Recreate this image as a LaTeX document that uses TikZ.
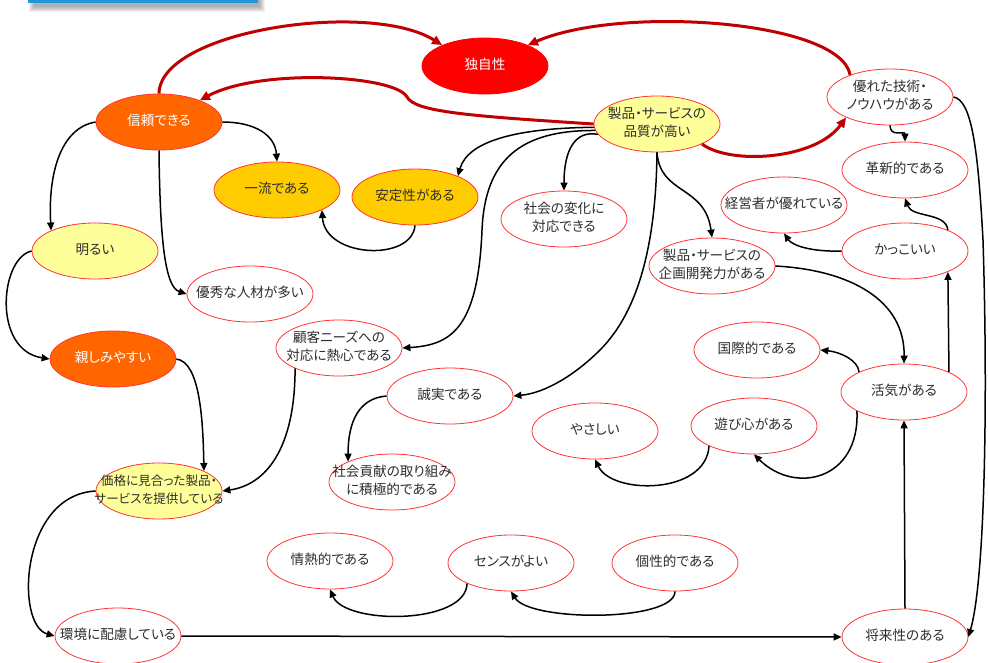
\documentclass[tikz,border=0pt]{standalone}
\usepackage{fontspec}
\setmainfont{Noto Sans CJK JP}[RawFeature=+palt]
\usetikzlibrary{shapes.geometric,arrows.meta}
\definecolor{rim}{HTML}{FF3333}
\definecolor{ink}{HTML}{2E2E2E}
\definecolor{crimson}{HTML}{C00000}
\definecolor{lemon}{HTML}{FFFF99}
\definecolor{amber}{HTML}{FFCC00}
\definecolor{tangerine}{HTML}{FF6600}
\definecolor{capblue}{HTML}{1E96DC}
% centred label of zero width, so the ellipse keeps its fixed size
\newcommand\celltext[1]{\makebox[0pt]{\begin{tabular}{@{}c@{}}#1\end{tabular}}}
\begin{document}
\begin{tikzpicture}[x=1pt,y=-1pt,
  bubble/.style={ellipse,draw=rim,line width=0.8pt,minimum width=126pt,minimum height=56pt,
    inner sep=0pt,text=ink,font=\fontsize{13.6}{18}\selectfont},
  bwhite/.style={bubble,fill=white},
  byellow/.style={bubble,fill=lemon},
  bgold/.style={bubble,fill=amber},
  borange/.style={bubble,fill=tangerine,text=white},
  bred/.style={bubble,fill=red,draw=red,text=white},
  blink/.style={line width=1.5pt,draw=black,-{Triangle[length=8pt,width=7pt]}},
  rlink/.style={line width=3pt,draw=crimson,-{Triangle[length=10pt,width=9pt]}}]
\useasboundingbox (0,0) rectangle (988,662);

% title bar peeking in at the top, with its shadow
\foreach \k in {1,...,6}
  \fill[black,opacity=0.06] (28+\k,-10) rectangle (266-\k,13-\k);
\fill[capblue] (28,-10) rectangle (258,3);

% nodes
\node[bred]    (uniq)    at (485,66)  {\celltext{独自性}};
\node[borange] (trust)   at (159,122) {\celltext{信頼できる}};
\node[byellow] (quality) at (657,124) {\celltext{製品・サービスの\\品質が高い}};
\node[bwhite]  (tech)    at (890,97)  {\celltext{優れた技術・\\ノウハウがある}};
\node[bgold]   (first)   at (277,190) {\celltext{一流である}};
\node[bgold]   (safe)    at (415,197) {\celltext{安定性がある}};
\node[bwhite]  (social)  at (564,219) {\celltext{社会の変化に\\対応できる}};
\node[bwhite]  (innov)   at (905,170) {\celltext{革新的である}};
\node[bwhite]  (exec)    at (784,205) {\celltext{経営者が優れている}};
\node[byellow] (bright)  at (95,251)  {\celltext{明るい}};
\node[bwhite]  (talent)  at (250,294) {\celltext{優秀な人材が多い}};
\node[bwhite]  (plan)    at (712,266) {\celltext{製品・サービスの\\企画開発力がある}};
\node[bwhite]  (cool)    at (905,251) {\celltext{かっこいい}};
\node[borange] (approach) at (113,359) {\celltext{親しみやすい}};
\node[bwhite]  (customer) at (339,348) {\celltext{顧客ニーズへの\\対応に熱心である}};
\node[bwhite]  (intl)    at (757,350) {\celltext{国際的である}};
\node[bwhite]  (lively)  at (904,392) {\celltext{活気がある}};
\node[bwhite]  (sincere) at (450,396) {\celltext{誠実である}};
\node[bwhite]  (gentle)  at (595,431) {\celltext{やさしい}};
\node[bwhite]  (play)    at (754,426) {\celltext{遊び心がある}};
\node[byellow,font=\fontsize{12.6}{18}\selectfont] (price) at (159,491)
  {\celltext{価格に見合った製品・\\サービスを提供している}};
\node[bwhite]  (contrib) at (392,482) {\celltext{社会貢献の取り組み\\に積極的である}};
\node[bwhite]  (passion) at (330,561) {\celltext{情熱的である}};
\node[bwhite]  (sense)   at (511,563) {\celltext{センスがよい}};
\node[bwhite]  (indiv)   at (675,563) {\celltext{個性的である}};
\node[bwhite]  (env)     at (118,636) {\celltext{環境に配慮している}};
\node[bwhite]  (future)  at (905,637) {\celltext{将来性のある}};

% red connectors
\draw[rlink] (trust.north) .. controls (160,30) and (370,0) .. (uniq.154);
\draw[rlink] (tech.151) .. controls (840,20) and (620,5) .. (uniq.26);
\draw[rlink] (quality.west) .. controls (470,116) and (415,112) .. (407,97)
                            .. controls (395,75) and (260,68) .. (trust.28);
\draw[rlink] (quality.336) .. controls (730,165) and (815,160) .. (tech.205);

% black connectors
\draw[blink] (trust.west) .. controls (60,128) and (48,175) .. (bright.155);
\draw[blink] (trust.east) .. controls (255,122) and (275,135) .. (first.north);
\draw[blink] (trust.south) .. controls (160,240) and (165,287) .. (talent.west);
\draw[blink] (safe.south) .. controls (412,262) and (325,258) .. (first.336);
\draw[blink] (quality.183) .. controls (520,128) and (468,140) .. (safe.26);
\draw[blink] (quality.186) .. controls (520,130) and (485,160) .. (482,230)
                           .. controls (478,330) and (450,345) .. (customer.east);
\draw[blink] (quality.190) .. controls (575,130) and (564,150) .. (social.north);
\draw[blink] (quality.south) .. controls (656,240) and (640,310) .. (600,350)
                             .. controls (575,375) and (545,393) .. (sincere.east);
\draw[blink] (quality.south) .. controls (660,195) and (705,185) .. (plan.north);
\draw[blink] (plan.east) .. controls (850,270) and (905,300) .. (lively.north);
\draw[blink] (lively.24) -- (cool.334);
\draw[blink] (cool.west) .. controls (810,252) and (792,245) .. (exec.south);
\draw[blink] (cool.26) .. controls (946,212) and (912,218) .. (innov.south);
\draw[blink] (tech.south) .. controls (890,138) and (905,130) .. (innov.north);
\draw[blink] (tech.east) .. controls (972,100) and (978,150) .. (983,240)
                         .. controls (988,400) and (985,580) .. (future.east);
\draw[blink] (lively.202) .. controls (860,480) and (795,495) .. (play.south);
\draw[blink] (lively.156) .. controls (858,360) and (840,352) .. (intl.east);
\draw[blink] (play.204) .. controls (706,495) and (612,495) .. (gentle.south);
\draw[blink] (future.north) -- (lively.south);
\draw[blink] (env.east) -- (future.west);
\draw[blink] (indiv.south) .. controls (675,622) and (530,622) .. (sense.south);
\draw[blink] (sense.205) .. controls (466,625) and (345,625) .. (passion.south);
\draw[blink] (sincere.west) .. controls (360,398) and (348,420) .. (contrib.155);
\draw[blink] (customer.205) .. controls (295,450) and (265,485) .. (price.east);
\draw[blink] (approach.east) .. controls (200,362) and (203,420) .. (price.24);
\draw[blink] (bright.west) .. controls (0,258) and (-8,350) .. (approach.west);
\draw[blink] (price.west) .. controls (20,495) and (15,625) .. (env.west);
\end{tikzpicture}
\end{document}
